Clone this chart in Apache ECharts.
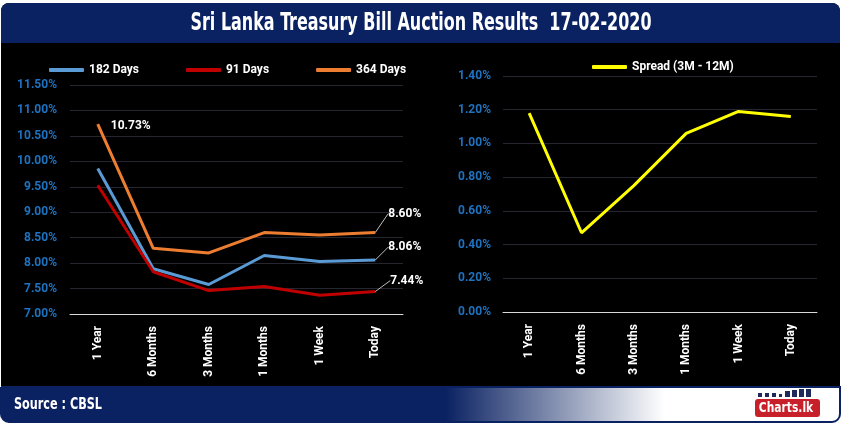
<!DOCTYPE html>
<html>
<head>
<meta charset="utf-8">
<script src="https://cdn.jsdelivr.net/npm/echarts@6/dist/echarts.min.js"></script>
<style>
html,body{margin:0;padding:0;background:#ffffff;}
#c{width:842px;height:425px;}
</style>
</head>
<body>
<div id="c"></div>
<script>
var categories = ['1 Year', '6 Months', '3 Months', '1 Months', '1 Week', 'Today'];
var days182 = [9.86, 7.89, 7.58, 8.15, 8.03, 8.06];
var days91 = [9.53, 7.83, 7.46, 7.54, 7.37, 7.44];
var days364 = [10.73, 8.29, 8.20, 8.60, 8.55, 8.60];
var spread = [1.18, 0.47, 0.75, 1.06, 1.19, 1.16];
var leftTicks = {min: 7.0, max: 11.5, interval: 0.5};
var rightTicks = {min: 0, max: 1.4, interval: 0.2};

var FONT = 'Roboto, "DejaVu Sans Condensed", sans-serif';
var TFONT = '"DejaVu Sans Condensed", Roboto, sans-serif';
var NAVY = '#0b2262';

function labelled(arr, idxs) {
  return arr.map(function (v, i) {
    if (idxs.indexOf(i) >= 0) {
      return {value: v, label: {show: true}, labelLine: {show: i !== 0}};
    }
    return v;
  });
}

var chart = echarts.init(document.getElementById('c'), null, {renderer: 'canvas'});

var labelStyle = {
  show: false,
  color: '#ffffff', fontFamily: FONT, fontWeight: 'bold', fontSize: 12,
  formatter: function (p) { return p.value.toFixed(2) + '%'; },
  position: 'right'
};

function lineSeries(name, data, color, labelIdx, layout) {
  return {
    name: name, type: 'line', xAxisIndex: 0, yAxisIndex: 0,
    data: labelled(data, labelIdx), symbol: 'circle', symbolSize: 0.01, showSymbol: true,
    lineStyle: {color: color, width: 3}, itemStyle: {color: color},
    label: labelStyle,
    labelLine: {lineStyle: {color: '#bfbfbf', width: 1}},
    labelLayout: layout
  };
}

chart.setOption({
  backgroundColor: '#ffffff',
  animation: false,
  graphic: [
    {type: 'rect', shape: {x: 1, y: 3, width: 839, height: 412, r: 8}, style: {fill: '#000000'}, z: -10},
    {type: 'rect', shape: {x: 1, y: 3, width: 839, height: 40, r: [8, 8, 0, 0]}, style: {fill: NAVY}, z: -5},
    {type: 'text', x: 421, y: 23, scaleX: 0.71, originX: 0, originY: 0,
      style: {text: 'Sri Lanka Treasury Bill Auction Results  17-02-2020', fill: '#ffffff', font: 'bold 25px ' + TFONT, textAlign: 'center', textVerticalAlign: 'middle'}},
    {type: 'rect', shape: {x: 1, y: 387, width: 839, height: 35, r: [0, 0, 8, 8]},
      style: {fill: new echarts.graphic.LinearGradient(0, 0, 1, 0, [
        {offset: 0, color: NAVY}, {offset: 0.53, color: NAVY}, {offset: 0.79, color: '#ffffff'}, {offset: 1, color: '#ffffff'}
      ]), stroke: NAVY, lineWidth: 2}, z: -5},
    {type: 'text', x: 14, y: 405, scaleX: 0.78, originX: 0, originY: 0,
      style: {text: 'Source : CBSL', fill: '#ffffff', font: 'bold 16px ' + TFONT, textVerticalAlign: 'middle'}},
    {type: 'rect', shape: {x: 755, y: 399, width: 65, height: 18, r: 3}, style: {fill: '#c8202a'}},
    {type: 'text', x: 786, y: 408, scaleX: 0.85, originX: 0, originY: 0, z: 10,
      style: {text: 'Charts.lk', fill: '#ffffff', font: 'bold 14px ' + TFONT, textAlign: 'center', textVerticalAlign: 'middle'}},
    {type: 'rect', shape: {x: 758, y: 393, width: 4, height: 4}, style: {fill: '#1d2a5a'}},
    {type: 'rect', shape: {x: 765, y: 393, width: 4, height: 4}, style: {fill: '#1d2a5a'}},
    {type: 'rect', shape: {x: 772, y: 393, width: 4, height: 4}, style: {fill: '#1d2a5a'}},
    {type: 'rect', shape: {x: 779, y: 394, width: 3, height: 3}, style: {fill: '#1d2a5a'}},
    {type: 'rect', shape: {x: 785, y: 391, width: 5, height: 6}, style: {fill: '#1d2a5a'}},
    {type: 'rect', shape: {x: 792, y: 390, width: 5, height: 7}, style: {fill: '#1d2a5a'}},
    {type: 'rect', shape: {x: 799, y: 389, width: 5, height: 8}, style: {fill: '#1d2a5a'}},
    {type: 'rect', shape: {x: 806, y: 389, width: 5, height: 8}, style: {fill: '#1d2a5a'}}
  ],
  legend: [
    {
      data: ['182 Days', '91 Days', '364 Days'],
      left: 44, top: 59, itemWidth: 35, itemHeight: 4, itemGap: 47,
      icon: 'roundRect',
      textStyle: {color: '#ffffff', fontFamily: FONT, fontWeight: 'bold', fontSize: 12}
    },
    {
      data: ['Spread (3M - 12M)'],
      left: 587, top: 56, itemWidth: 35, itemHeight: 4,
      icon: 'roundRect',
      textStyle: {color: '#ffffff', fontFamily: FONT, fontWeight: 'bold', fontSize: 12}
    }
  ],
  grid: [
    {left: 70, right: 439, top: 85, bottom: 111},
    {left: 503, right: 25, top: 76, bottom: 113}
  ],
  xAxis: [0, 1].map(function (g) {
    return {
      type: 'category', gridIndex: g, data: categories, boundaryGap: true,
      axisLine: {lineStyle: {color: '#d9d9d9', width: 1}},
      axisTick: {show: false},
      axisLabel: {rotate: 90, color: '#ffffff', fontFamily: FONT, fontWeight: 'bold', fontSize: 12, margin: 12}
    };
  }),
  yAxis: [
    {
      type: 'value', gridIndex: 0, min: leftTicks.min, max: leftTicks.max, interval: leftTicks.interval,
      axisLine: {show: false}, axisTick: {show: false},
      splitLine: {lineStyle: {color: '#262630', width: 1}},
      axisLabel: {color: '#1f72c0', fontFamily: FONT, fontWeight: 'bold', fontSize: 12, margin: 13,
        formatter: function (v) { return v.toFixed(2) + '%'; }}
    },
    {
      type: 'value', gridIndex: 1, min: rightTicks.min, max: rightTicks.max, interval: rightTicks.interval,
      axisLine: {show: false}, axisTick: {show: false},
      splitLine: {lineStyle: {color: '#262630', width: 1}},
      axisLabel: {color: '#1f72c0', fontFamily: FONT, fontWeight: 'bold', fontSize: 12, margin: 12,
        formatter: function (v) { return v.toFixed(2) + '%'; }}
    }
  ],
  series: [
    lineSeries('182 Days', days182, '#5b9bd5', [5], {dx: 8, dy: -13}),
    lineSeries('91 Days', days91, '#c00000', [5], {dx: 10, dy: -11}),
    lineSeries('364 Days', days364, '#ed7d31', [0, 5], function (p) {
      if (p.dataIndex === 0) { return {dx: 8, dy: 2}; }
      return {dx: 8, dy: -19};
    }),
    {
      name: 'Spread (3M - 12M)', type: 'line', xAxisIndex: 1, yAxisIndex: 1,
      data: spread, symbol: 'none', showSymbol: false,
      lineStyle: {color: '#ffff00', width: 3}, itemStyle: {color: '#ffff00'}
    }
  ]
});
</script>
</body>
</html>
